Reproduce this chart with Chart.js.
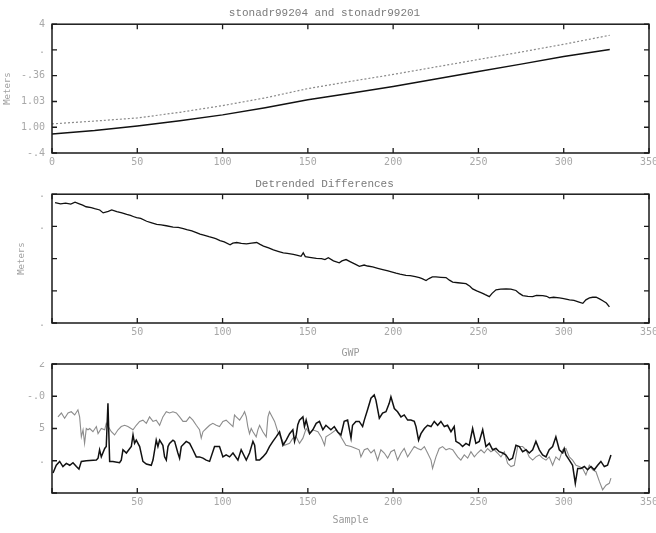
<!DOCTYPE html>
<html>
<head>
<meta charset="utf-8">
<script src="https://cdn.jsdelivr.net/npm/chart.js@4.4.1/dist/chart.umd.min.js"></script>
<style>
  html, body { margin: 0; padding: 0; background: #fff; }
  #wrap { position: relative; width: 656px; height: 533px; overflow: hidden; }
  .panel { position: absolute; left: 0; width: 656px; }
</style>
</head>
<body>
<div id="wrap">
  <div class="panel" style="top:0;height:172px"><canvas id="c1" width="656" height="172"></canvas></div>
  <div class="panel" style="top:172px;height:190px"><canvas id="c2" width="656" height="190"></canvas></div>
  <div class="panel" style="top:362px;height:171px"><canvas id="c3" width="656" height="171"></canvas></div>
</div>
<script>
// --- panel 1: the two stations
const topX = [0, 25, 50, 75, 100, 125, 150, 175, 200, 225, 250, 275, 300, 327];
const topSolid = [0.74, 0.87, 1.05, 1.25, 1.48, 1.76, 2.07, 2.32, 2.58, 2.87, 3.16, 3.45, 3.75, 4.02];
const topDotted = [1.13, 1.24, 1.36, 1.58, 1.84, 2.14, 2.5, 2.78, 3.05, 3.34, 3.63, 3.92, 4.22, 4.57];
const topYTicks = [0, 1, 2, 3, 4, 5];
const topYLabels = ["-.4", "1.00", "1.03", "-.36", ".", "4"];

// --- panel 2: detrended differences
const midX = [1.8, 5, 8, 11, 13.5, 16, 18, 20, 23, 25, 28, 30, 33, 35, 38, 41, 43.8, 46, 48, 49.6,
  52, 55.5, 58, 61.4, 64, 67, 71, 74, 77, 79, 82, 85, 86.8, 89, 92, 94.6, 96, 98.5, 101, 104.4,
  106, 108.3, 111, 114, 117, 120, 122, 124, 127, 129.8, 133, 135.6, 138, 141.5, 144, 146, 147.3, 148.5, 151, 155,
  158, 160, 162, 165, 168.4, 170, 172.4, 175, 178, 180.2, 183, 185, 188, 191, 193.9, 197, 199, 201.7, 204, 207.5,
  210, 213, 215.4, 217, 219.3, 221, 223, 225.1, 228, 231, 233, 234.9, 238, 242.7, 245, 246.6, 249, 252.5, 254, 256.4,
  258, 260.3, 263, 266.2, 269, 272, 274, 276, 279, 281.8, 284, 287.7, 290, 291.6, 294, 297.5, 300, 303.4, 306, 309,
  311.2, 313, 315.1, 317, 319, 321, 322.9, 325, 326.8];
const midY = [3.74, 3.7, 3.72, 3.69, 3.75, 3.7, 3.66, 3.61, 3.58, 3.55, 3.51, 3.42, 3.47, 3.51, 3.46, 3.42, 3.37, 3.34, 3.3, 3.27,
  3.25, 3.16, 3.12, 3.06, 3.05, 3.02, 2.98, 2.97, 2.93, 2.9, 2.86, 2.8, 2.76, 2.73, 2.68, 2.64, 2.62, 2.56, 2.52, 2.43,
  2.48, 2.5, 2.47, 2.46, 2.48, 2.5, 2.44, 2.39, 2.33, 2.27, 2.22, 2.18, 2.16, 2.13, 2.1, 2.07, 2.18, 2.06, 2.04, 2.01,
  2.0, 1.97, 2.03, 1.93, 1.87, 1.93, 1.97, 1.9, 1.82, 1.76, 1.8, 1.77, 1.74, 1.7, 1.66, 1.62, 1.59, 1.55, 1.52, 1.48,
  1.47, 1.44, 1.41, 1.38, 1.32, 1.38, 1.43, 1.43, 1.42, 1.41, 1.33, 1.27, 1.25, 1.22, 1.14, 1.06, 1.0, 0.92, 0.88, 0.82,
  0.92, 1.03, 1.05, 1.06, 1.05, 1.01, 0.92, 0.85, 0.83, 0.82, 0.86, 0.85, 0.83, 0.78, 0.8, 0.78, 0.76, 0.72, 0.7, 0.65,
  0.61, 0.72, 0.78, 0.8, 0.8, 0.75, 0.69, 0.62, 0.5];
const midYTicks = [0, 1, 2, 3, 4];
const midYLabels = [".", "", "", ".", "."];

// --- panel 3: samples
const darkX = [0.6, 2.5, 4.5, 6.4, 8.4, 10.4, 12.3, 14.3, 15.8, 17.2, 20.1, 26, 27, 27.9, 28.9, 30.9, 31.8, 32.8, 33.8, 35.7,
  39.6, 40.6, 41.6, 43.6, 46.5, 47.5, 48.4, 49.4, 51.4, 53.3, 55.3, 58.2, 59.2, 60.2, 61.1, 62.1, 63.1, 65, 66, 67,
  68, 68.9, 70.9, 71.9, 73.8, 74.8, 75.8, 78.7, 80.7, 82.6, 84.6, 86.5, 88.5, 90.4, 92.4, 95.3, 98.2, 100.2, 102.1, 104.1,
  106.1, 109, 110.9, 113.9, 115.8, 117.8, 118.8, 119.7, 121.7, 123.6, 125.6, 127.5, 129.5, 131.4, 133.4, 135.4, 137.3, 139.3, 141.2, 142.2,
  143.2, 144.1, 145.1, 147.1, 148, 149, 151, 152.9, 154.9, 156.8, 158.8, 160.6, 163.5, 165.5, 167.4, 169.4, 171.3, 173.3, 175.3, 176.2,
  178.2, 180.1, 182.1, 183.1, 185, 187, 188.9, 189.9, 191.9, 193.8, 195.8, 197.7, 198.7, 200.7, 202.6, 204.6, 206.5, 208.5, 210.4, 212.4,
  213.4, 214.9, 216.3, 218.3, 220.2, 222.2, 224.1, 226.1, 228, 230, 231.9, 233.9, 235.8, 236.8, 238.8, 240.7, 242.7, 244.6, 246.6, 248.5,
  250.5, 252.5, 254.4, 256.4, 258.3, 260.3, 262.2, 264.2, 266.1, 268.1, 270, 272, 274, 275.9, 277.9, 279.8, 281.8, 283.7, 285.7, 287.6,
  289.6, 291.5, 293.5, 295.4, 297.4, 299.4, 300.3, 301.3, 303.3, 305.2, 306.8, 308.2, 310.1, 312.1, 314, 316, 317.9, 319.9, 321.8, 323.8,
  325.7, 327.7];
const darkY = [0.81, 0.93, 0.99, 0.91, 0.96, 0.93, 0.97, 0.91, 0.87, 0.99, 1.0, 1.01, 1.04, 1.17, 1.06, 1.19, 1.22, 1.89, 0.99, 0.99,
  0.97, 1.01, 1.17, 1.12, 1.22, 1.4, 1.27, 1.32, 1.22, 0.99, 0.95, 0.93, 1.01, 1.17, 1.32, 1.22, 1.32, 1.24, 1.06, 1.01,
  1.22, 1.27, 1.32, 1.3, 1.12, 1.04, 1.22, 1.3, 1.27, 1.17, 1.06, 1.06, 1.04, 1.01, 0.99, 1.22, 1.22, 1.06, 1.09, 1.06,
  1.12, 1.01, 1.17, 1.01, 1.12, 1.3, 1.24, 1.01, 1.01, 1.06, 1.12, 1.22, 1.3, 1.37, 1.45, 1.24, 1.32, 1.42, 1.48, 1.3,
  1.4, 1.56, 1.63, 1.68, 1.53, 1.63, 1.42, 1.48, 1.58, 1.61, 1.48, 1.55, 1.48, 1.53, 1.45, 1.4, 1.61, 1.63, 1.35, 1.55,
  1.61, 1.61, 1.53, 1.63, 1.79, 1.97, 2.02, 1.94, 1.66, 1.74, 1.76, 1.89, 1.99, 1.81, 1.76, 1.68, 1.71, 1.63, 1.63, 1.61,
  1.53, 1.32, 1.42, 1.5, 1.55, 1.53, 1.61, 1.55, 1.61, 1.53, 1.55, 1.45, 1.53, 1.3, 1.27, 1.22, 1.27, 1.24, 1.5, 1.27,
  1.3, 1.48, 1.22, 1.27, 1.17, 1.19, 1.14, 1.12, 1.09, 1.01, 1.04, 1.24, 1.22, 1.14, 1.17, 1.12, 1.17, 1.3, 1.17, 1.09,
  1.06, 1.17, 1.22, 1.37, 1.17, 1.12, 1.19, 1.09, 1.01, 0.93, 0.65, 0.88, 0.88, 0.91, 0.86, 0.91, 0.86, 0.93, 0.99, 0.91,
  0.93, 1.09];
const lightX = [3.5, 5.5, 7.4, 9.4, 11.3, 13.3, 15.2, 16.2, 17.2, 18.2, 19.1, 20.1, 21.1, 22.1, 24, 26, 27, 28.9, 30.9, 31.8,
  34.8, 36.7, 38.7, 40.6, 42.6, 44.5, 47.5, 49.4, 51.4, 53.3, 55.3, 57.2, 59.2, 61.1, 63.1, 65, 67, 68.9, 70.9, 72.9,
  74.8, 76.8, 78.7, 80.7, 82.6, 84.6, 86.5, 87.5, 88.5, 90.4, 92.4, 94.3, 96.3, 98.2, 100.2, 102.1, 104.1, 106.1, 107, 108,
  110, 111.9, 112.9, 113.9, 114.8, 115.8, 116.8, 117.8, 119.7, 120.7, 121.7, 123.6, 125.6, 126.6, 127.5, 128.5, 130.5, 132.4, 134.4, 136.3,
  139.3, 141.2, 143.2, 145.1, 147.1, 149, 151, 152.9, 155.9, 157.8, 159.8, 160.6, 163.5, 166.5, 169.4, 172.3, 175.3, 178.2, 180.1, 181.1,
  183.1, 185, 187, 188.9, 190.9, 192.8, 194.8, 196.8, 198.7, 200.7, 202.6, 204.6, 206.5, 208.5, 210.4, 212.4, 214.3, 216.3, 218.3, 220.2,
  222.2, 223.1, 225.1, 227, 229, 231, 232.9, 234.9, 237.8, 239.7, 241.7, 243.7, 245.6, 247.6, 249.5, 251.5, 253.4, 255.4, 257.3, 259.3,
  261.2, 263.2, 265.2, 267.1, 269.1, 271, 273, 275.9, 277.9, 279.8, 281.8, 283.7, 285.7, 287.6, 289.6, 291.5, 293.5, 295.4, 297.4, 299.4,
  301.3, 303.3, 305.2, 307.2, 309.1, 311.1, 313, 315, 317, 318.9, 320.9, 322.8, 324.8, 326.7, 327.7];
const lightY = [1.68, 1.74, 1.66, 1.74, 1.76, 1.71, 1.79, 1.68, 1.37, 1.48, 1.27, 1.5, 1.48, 1.5, 1.45, 1.53, 1.42, 1.5, 1.48, 1.58,
  1.45, 1.4, 1.48, 1.53, 1.55, 1.53, 1.48, 1.55, 1.61, 1.63, 1.58, 1.68, 1.61, 1.63, 1.55, 1.68, 1.76, 1.74, 1.76, 1.74,
  1.68, 1.61, 1.61, 1.68, 1.63, 1.55, 1.48, 1.35, 1.45, 1.5, 1.55, 1.58, 1.55, 1.53, 1.61, 1.63, 1.58, 1.53, 1.71, 1.68,
  1.63, 1.71, 1.76, 1.68, 1.53, 1.42, 1.5, 1.45, 1.37, 1.48, 1.55, 1.45, 1.37, 1.68, 1.76, 1.71, 1.61, 1.45, 1.35, 1.24,
  1.27, 1.35, 1.37, 1.27, 1.35, 1.5, 1.42, 1.48, 1.45, 1.37, 1.24, 1.37, 1.42, 1.48, 1.37, 1.24, 1.22, 1.19, 1.17, 1.06,
  1.17, 1.19, 1.12, 1.17, 1.01, 1.17, 1.12, 1.04, 1.14, 1.17, 1.01, 1.12, 1.19, 1.06, 1.14, 1.22, 1.19, 1.17, 1.22, 1.12,
  1.01, 0.88, 1.06, 1.19, 1.22, 1.17, 1.19, 1.17, 1.06, 1.01, 1.09, 1.04, 1.14, 1.06, 1.12, 1.17, 1.12, 1.19, 1.14, 1.17,
  1.12, 1.06, 1.14, 0.96, 0.91, 0.93, 1.22, 1.22, 1.17, 1.06, 1.01, 1.06, 1.09, 1.04, 1.01, 1.06, 0.93, 1.06, 1.01, 1.17,
  1.19, 1.06, 1.01, 0.93, 0.91, 0.88, 0.78, 0.93, 0.86, 0.83, 0.68, 0.55, 0.62, 0.65, 0.73];
const botYTicks = [0.5, 1, 1.5, 2, 2.5];
const botYLabels = ["", ".", "5", "-.0", "2"];

const xTicks = [0, 50, 100, 150, 200, 250, 300, 350];

const tickFont = { family: "'DejaVu Sans Mono', monospace", size: 10 };
const labelColor = "#a8a8a8";

function pts(xs, ys) {
  return xs.map((x, i) => ({ x: x, y: ys[i] }));
}

// frame box plus inward tick marks on all four sides
const frameTicks = {
  id: "frameTicks",
  afterDraw(chart) {
    const { ctx, chartArea: a, scales } = chart;
    ctx.save();
    ctx.strokeStyle = "#1a1a1a";
    ctx.lineWidth = 1.5;
    ctx.strokeRect(a.left, a.top, a.right - a.left, a.bottom - a.top);
    ctx.lineWidth = 1.3;
    ctx.beginPath();
    scales.x.ticks.forEach((t) => {
      const px = scales.x.getPixelForValue(t.value);
      ctx.moveTo(px, a.bottom);
      ctx.lineTo(px, a.bottom - 5);
      ctx.moveTo(px, a.top);
      ctx.lineTo(px, a.top + 5);
    });
    scales.y.ticks.forEach((t) => {
      const py = scales.y.getPixelForValue(t.value);
      ctx.moveTo(a.left, py);
      ctx.lineTo(a.left + 5, py);
      ctx.moveTo(a.right, py);
      ctx.lineTo(a.right - 5, py);
    });
    ctx.stroke();
    ctx.restore();
  },
};

function makePanel(canvasId, cfg) {
  return new Chart(document.getElementById(canvasId), {
    type: "line",
    data: { datasets: cfg.datasets },
    plugins: [frameTicks],
    options: {
      responsive: false,
      animation: false,
      layout: { autoPadding: false, padding: { left: 0, right: 7, top: cfg.padTop, bottom: 0 } },
      plugins: {
        legend: { display: false },
        tooltip: { enabled: false },
        title: {
          display: !!cfg.title,
          text: cfg.title,
          color: "#7a7a7a",
          font: { family: "'Liberation Mono', monospace", size: 11, weight: "normal" },
          padding: cfg.titlePad,
        },
      },
      elements: { point: { radius: 0 }, line: { tension: 0 } },
      scales: {
        x: {
          type: "linear",
          min: 0,
          max: 350,
          grid: { display: false, drawTicks: false },
          border: { display: false },
          afterBuildTicks: (s) => { s.ticks = xTicks.map((v) => ({ value: v })); },
          afterFit: (s) => {
            s.height = cfg.xHeight;
            s.paddingLeft = 0;
            s.paddingRight = 0;
          },
          ticks: {
            color: labelColor,
            font: tickFont,
            padding: 3,
            maxRotation: 0,
            callback: (v) => (cfg.hideZero && v === 0 ? "" : String(v)),
          },
          title: {
            display: !!cfg.xTitle,
            text: cfg.xTitle,
            color: "#9a9a9a",
            font: tickFont,
            padding: { top: 0, bottom: cfg.xTitlePad || 0 },
          },
        },
        y: {
          type: "linear",
          min: cfg.yTicks[0],
          max: cfg.yTicks[cfg.yTicks.length - 1],
          grid: { display: false, drawTicks: false },
          border: { display: false },
          afterBuildTicks: (s) => { s.ticks = cfg.yTicks.map((v) => ({ value: v })); },
          afterFit: (s) => {
            s.width = 52;
            s.paddingTop = 0;
            s.paddingBottom = 0;
          },
          ticks: {
            color: labelColor,
            font: tickFont,
            padding: 7,
            callback: (v, i) => cfg.yLabels[i],
          },
          title: {
            display: !!cfg.yTitle,
            text: cfg.yTitle,
            color: "#a0a0a0",
            font: { family: "'DejaVu Sans Mono', monospace", size: 9 },
            padding: { top: cfg.yTitlePad || 2, bottom: 0 },
          },
        },
      },
    },
  });
}

makePanel("c1", {
  title: "stonadr99204 and stonadr99201",
  titlePad: { top: 6, bottom: 5 },
  padTop: 0,
  xHeight: 19,
  yTicks: topYTicks,
  yLabels: topYLabels,
  yTitle: "Meters",
  yTitlePad: 2,
  datasets: [
    { data: pts(topX, topSolid), borderColor: "#111", borderWidth: 1.5 },
    { data: pts(topX, topDotted), borderColor: "#8a8a8a", borderWidth: 1.2, borderDash: [2, 2] },
  ],
});

makePanel("c2", {
  title: "Detrended Differences",
  titlePad: { top: 5, bottom: 4 },
  padTop: 0,
  xHeight: 39,
  hideZero: true,
  xTitle: "GWP",
  xTitlePad: 3,
  yTicks: midYTicks,
  yLabels: midYLabels,
  yTitle: "Meters",
  yTitlePad: 16,
  datasets: [
    { data: pts(midX, midY), borderColor: "#111", borderWidth: 1.3 },
  ],
});

makePanel("c3", {
  title: "",
  titlePad: 0,
  padTop: 2,
  xHeight: 40,
  hideZero: true,
  xTitle: "Sample",
  xTitlePad: 7,
  yTicks: botYTicks,
  yLabels: botYLabels,
  datasets: [
    { data: pts(darkX, darkY), borderColor: "#111", borderWidth: 1.5 },
    { data: pts(lightX, lightY), borderColor: "#8c8c8c", borderWidth: 1.1 },
  ],
});
</script>
</body>
</html>
